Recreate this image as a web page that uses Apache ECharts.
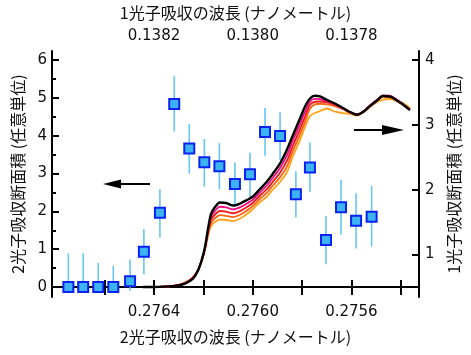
<!DOCTYPE html>
<html>
<head>
<meta charset="utf-8">
<script src="https://cdn.jsdelivr.net/npm/echarts@6/dist/echarts.min.js"></script>
<style>html,body{margin:0;padding:0;background:#fff}#c{width:471px;height:355px}</style>
</head>
<body>
<div id="c"></div>
<script>
// ---- two-photon absorption cross section (left axis, bottom wavelength axis) ----
const tpaWavelength = [0.276747,0.276687,0.276626,0.276565,0.276497,0.276441,0.276376,0.276318,0.276257,0.276196,0.276135,0.276072,0.276011,0.275950,0.275889,0.275825,0.275768,0.275703,0.275642,0.275581,0.275518];
const tpaValue = [0,0,0,0,0.15,0.93,1.96,4.84,3.66,3.30,3.19,2.72,2.98,4.10,3.99,2.45,3.16,1.24,2.11,1.75,1.86];
const tpaLow   = [0,0,0,0,-0.10,0.34,1.31,4.11,3.00,2.65,2.58,2.12,2.38,3.47,3.36,1.84,2.52,0.60,1.38,1.02,1.07];
const tpaHigh  = [0.89,0.89,0.64,0.56,0.73,1.53,2.59,5.58,4.31,3.91,3.80,3.29,3.55,4.73,4.62,3.06,3.82,1.88,2.83,2.48,2.67];

// ---- one-photon absorption spectra (right axis, top wavelength axis) ----
const opaWavelength = [0.1382223,0.1381878,0.1381574,0.1381372,0.1381210,0.1381108,0.1381027,0.1380967,0.1380906,0.1380845,0.1380764,0.1380663,0.1380541,0.1380399,0.1380257,0.1380116,0.1379994,0.1379852,0.1379710,0.1379589,0.1379447,0.1379305,0.1379183,0.1379042,0.1378940,0.1378839,0.1378738,0.1378636,0.1378494,0.1378332,0.1378170,0.1378028,0.1377887,0.1377765,0.1377623,0.1377481,0.1377360,0.1377218,0.1377076,0.1376955,0.1376813];
const opaBlack   = [0.497,0.500,0.515,0.551,0.628,0.752,0.929,1.114,1.392,1.623,1.731,1.801,1.793,1.755,1.785,1.840,1.894,2.009,2.125,2.248,2.403,2.619,2.843,3.097,3.282,3.406,3.449,3.437,3.383,3.329,3.259,3.198,3.156,3.198,3.290,3.375,3.444,3.437,3.375,3.313,3.228];
const opaMagenta = [0.497,0.500,0.516,0.555,0.634,0.754,0.925,1.102,1.365,1.577,1.673,1.736,1.727,1.695,1.727,1.786,1.846,1.959,2.067,2.187,2.332,2.532,2.762,3.014,3.203,3.360,3.400,3.395,3.365,3.320,3.255,3.195,3.160,3.205,3.300,3.385,3.455,3.450,3.385,3.320,3.235];
const opaRed     = [0.497,0.500,0.517,0.558,0.640,0.756,0.921,1.091,1.338,1.531,1.616,1.670,1.662,1.635,1.669,1.731,1.798,1.909,2.010,2.125,2.260,2.446,2.681,2.931,3.124,3.310,3.356,3.360,3.345,3.308,3.250,3.192,3.158,3.200,3.295,3.380,3.448,3.443,3.378,3.315,3.232];
const opaOrangeRed = [0.497,0.500,0.518,0.562,0.645,0.757,0.918,1.080,1.311,1.485,1.558,1.605,1.596,1.575,1.612,1.677,1.749,1.859,1.952,2.064,2.189,2.359,2.600,2.848,3.045,3.250,3.316,3.325,3.315,3.288,3.240,3.188,3.152,3.195,3.285,3.370,3.430,3.425,3.365,3.310,3.240];
const opaOrange  = [0.497,0.500,0.520,0.566,0.651,0.759,0.914,1.068,1.284,1.438,1.500,1.539,1.531,1.515,1.554,1.623,1.701,1.809,1.894,2.002,2.117,2.272,2.519,2.765,2.966,3.136,3.182,3.213,3.252,3.204,3.182,3.167,3.144,3.190,3.275,3.352,3.390,3.398,3.367,3.336,3.259];

// ---- axis tick labels ----
const bottomTicks  = [0.2754,0.2756,0.2758,0.2760,0.2762,0.2764,0.2766];
const bottomLabels = [0.2756,0.2760,0.2764];
const topTicks     = [0.1377,0.1378,0.1379,0.1380,0.1381,0.1382,0.1383];
const topLabels    = [0.1378,0.1380,0.1382];
const leftLabels   = [0,1,2,3,4,5,6];
const leftMinor    = [0.5,1.5,2.5,3.5,4.5,5.5];
const rightLabels  = [1,2,3,4];

// annotation arrows (data coordinates; second point = arrowhead centre)
const leftArrow  = [[0.2764162, 2.725],[0.2765702, 2.725]];
const rightArrow = [[0.1377947, 2.92],[0.1377157, 2.92]];

const NUM_FONT = 'DejaVu Sans';
const JP_FONT = 'Noto Sans CJK JP';
const axisLineStyle = {show:true, lineStyle:{color:'#000', width:2}};

const chart = echarts.init(document.getElementById('c'), null, {renderer:'canvas'});

const curveSeries = [
  ['#ffa31a', opaOrange],
  ['#ff6410', opaOrangeRed],
  ['#f01a1a', opaRed],
  ['#ee0a82', opaMagenta],
  ['#000000', opaBlack]
].map(([col, vals], i) => ({
  type:'line', xAxisIndex:1, yAxisIndex:1, z:2 + i*0.01,
  data: opaWavelength.map((w, k) => [w, vals[k]]),
  showSymbol:false, smooth:0.3, silent:true,
  lineStyle:{color:col, width: col === '#000000' ? 2.4 : 1.8},
  markLine: col === '#000000' ? {
    silent:true, symbol:['none','triangle'], symbolSize:[10,22],
    label:{show:false},
    lineStyle:{color:'#000', width:2, type:'solid'},
    data:[[{coord:rightArrow[0]},{coord:rightArrow[1]}]]
  } : undefined
}));

const option = {
  animation:false,
  backgroundColor:'#fff',
  grid:{left:52, right:52, top:50, bottom:58},
  xAxis:[
    {type:'value', position:'bottom', inverse:true, min:0.2753260, max:0.2768134,
     name:'2光子吸収の波長 (ナノメートル)', nameLocation:'middle', nameGap:32,
     nameTextStyle:{fontFamily:JP_FONT, fontSize:16, color:'#111'},
     axisLine:axisLineStyle,
     axisTick:{show:true, inside:true, length:7, customValues:bottomTicks, lineStyle:{color:'#000', width:2}},
     axisLabel:{show:true, customValues:bottomLabels, formatter:v=>v.toFixed(4), fontFamily:NUM_FONT, fontSize:15, color:'#111', margin:8},
     splitLine:{show:false}},
    {type:'value', position:'top', inverse:true, min:0.1376630, max:0.1384067,
     name:'1光子吸収の波長 (ナノメートル)', nameLocation:'middle', nameGap:30,
     nameTextStyle:{fontFamily:JP_FONT, fontSize:16, color:'#111'},
     axisLine:axisLineStyle,
     axisTick:{show:true, inside:true, length:8, customValues:topTicks, lineStyle:{color:'#000', width:2}},
     axisLabel:{show:true, customValues:topLabels, formatter:v=>v.toFixed(4), fontFamily:NUM_FONT, fontSize:15, color:'#111', margin:7},
     splitLine:{show:false}},
  ],
  yAxis:[
    {type:'value', position:'left', min:-0.264, max:6.238,
     name:'2光子吸収断面積 (任意単位)', nameLocation:'middle', nameGap:26, nameRotate:90,
     nameTextStyle:{fontFamily:JP_FONT, fontSize:16, color:'#111'},
     axisLine:axisLineStyle,
     axisTick:{show:true, inside:true, length:7, customValues:leftLabels, lineStyle:{color:'#000', width:2}},
     axisLabel:{show:true, customValues:leftLabels, fontFamily:NUM_FONT, fontSize:15, color:'#111', margin:5},
     splitLine:{show:false}},
    {type:'value', position:'right', min:0.343, max:4.139,
     name:'1光子吸収断面積 (任意単位)', nameLocation:'middle', nameGap:25, nameRotate:90,
     nameTextStyle:{fontFamily:JP_FONT, fontSize:16, color:'#111'},
     axisLine:axisLineStyle,
     axisTick:{show:true, inside:true, length:7, customValues:rightLabels, lineStyle:{color:'#000', width:2}},
     axisLabel:{show:true, customValues:rightLabels, fontFamily:NUM_FONT, fontSize:15, color:'#111', margin:6},
     splitLine:{show:false}},
    {type:'value', position:'left', min:-0.264, max:6.238,
     axisLine:{show:false},
     axisTick:{show:true, inside:true, length:4, customValues:leftMinor, lineStyle:{color:'#000', width:2}},
     axisLabel:{show:false}, splitLine:{show:false}}
  ],
  series:[
    {type:'custom', xAxisIndex:0, yAxisIndex:0, z:1, silent:true,
     data: tpaWavelength.map((w,i)=>[w, tpaLow[i], tpaHigh[i]]),
     encode:{x:0, y:[1,2]},
     renderItem:(params, api)=>{
       const p1 = api.coord([api.value(0), api.value(1)]);
       const p2 = api.coord([api.value(0), api.value(2)]);
       return {type:'line', shape:{x1:p1[0], y1:p1[1], x2:p2[0], y2:p2[1]},
               style:{stroke:'#66c6f6', lineWidth:1.6}};
     }},
    ...curveSeries,
    {type:'scatter', xAxisIndex:0, yAxisIndex:0, z:5, silent:true,
     data: tpaWavelength.map((w,i)=>[w, tpaValue[i]]),
     symbol:'rect', symbolSize:10,
     itemStyle:{color:'#3cb3f2', borderColor:'#0a22f0', borderWidth:2, opacity:1},
     markLine:{
       silent:true, symbol:['none','triangle'], symbolSize:[9,18],
       label:{show:false},
       lineStyle:{color:'#000', width:2, type:'solid'},
       data:[[{coord:leftArrow[0]},{coord:leftArrow[1]}]]
     }}
  ]
};
chart.setOption(option);
</script>
</body>
</html>
